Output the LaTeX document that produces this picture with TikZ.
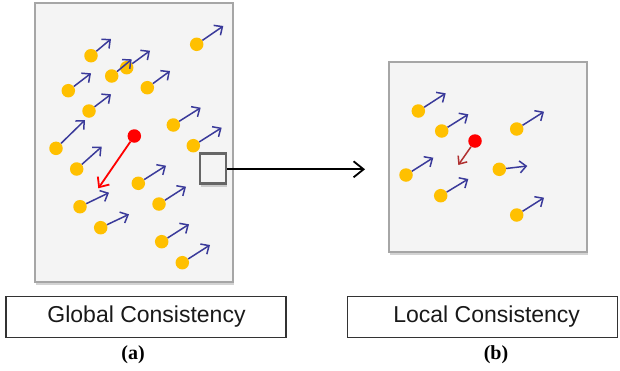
\documentclass[tikz,border=0pt]{standalone}
\usepackage{fontspec}
\setmainfont{Liberation Sans}
\newfontfamily\capfont{Liberation Serif}
\usetikzlibrary{arrows.meta,shadows}
\definecolor{panelfill}{HTML}{F4F4F4}
\definecolor{panelline}{HTML}{A6A6A6}
\definecolor{dotgold}{HTML}{FFC000}
\definecolor{vecblue}{HTML}{3A3A9A}
\definecolor{darkred}{HTML}{B03030}
\tikzset{
  panel/.style={draw=panelline, line width=2pt, fill=panelfill,
    drop shadow={shadow xshift=1pt, shadow yshift=-3pt, opacity=0.35}},
  zoombox/.style={draw=black!60, line width=2.4pt, fill=panelfill,
    drop shadow={shadow xshift=1pt, shadow yshift=-3pt, opacity=0.35}},
  dot/.style={circle, fill=dotgold, inner sep=0pt, minimum size=13.5pt},
  reddot/.style={circle, fill=red, inner sep=0pt, minimum size=13.5pt},
  vec/.style={draw=vecblue, line width=1.5pt, -{Straight Barb[length=6.5pt,width=12pt,line width=1.5pt]}},
  redvec/.style={draw=red, line width=1.8pt, -{Straight Barb[length=8pt,width=14pt,line width=1.8pt]}},
  darkvec/.style={draw=darkred, line width=1.5pt, -{Straight Barb[length=6.5pt,width=11pt,line width=1.5pt]}},
  labelbox/.style={draw=black!80, line width=1.3pt, fill=white},
  labeltext/.style={font=\fontsize{23}{27}\selectfont, text=black!90},
  captext/.style={font=\capfont\bfseries\fontsize{20}{24}\selectfont}
}
\begin{document}
\begin{tikzpicture}[x=1pt,y=-1pt]
\useasboundingbox (0,0) rectangle (620,370);
% panels
\path[panel] (35,3) rectangle (233,282);
\path[panel] (389.3,61.7) rectangle (587.3,251.7);
% left dots
\foreach \n/\x/\y in {1/196.7/44.3, 2/91/55.7, 3/126.7/67.7, 4/111.7/76, 5/68.3/90.7,
  6/147.3/87.7, 7/89/111, 8/56/148.3, 9/173.3/125, 10/193.3/145.7, 11/76.7/169,
  12/138.3/183.3, 13/80/206.7, 14/159/204, 15/100.7/227.7, 16/161.7/241.7, 17/182.3/262.7}
  \node[dot] (d\n) at (\x,\y) {};
\node[reddot] (rl) at (134.3,136) {};
% left vector ends
\foreach \n/\x/\y in {1/223.3/26, 2/111/39, 3/150/50.7, 4/131.7/59.3, 5/91/73.3,
  6/170/71, 7/111/94.3, 8/85/120, 9/200.7/107.7, 10/221.7/127.7, 11/101.7/146.7,
  12/166/165.7, 13/109/192.7, 14/186/186.7, 15/129/214.3, 16/189/224.3, 17/210/245}
  \coordinate (v\n) at (\x,\y);
\foreach \n in {1,...,17}
  \draw[vec] (d\n) -- (v\n);
\coordinate (rlv) at (98.3,188.3);
\draw[redvec] (rl) -- (rlv);
% right dots
\foreach \n/\x/\y in {1/418.3/111, 2/441.7/131, 3/516.7/129, 4/406/175,
  5/499.3/169.3, 6/440.7/195.7, 7/516.7/215}
  \node[dot] (e\n) at (\x,\y) {};
\node[reddot] (rr) at (475,141) {};
\foreach \n/\x/\y in {1/445.7/93.3, 2/468.3/114.3, 3/544/111.7, 4/433.3/157.7,
  5/527.3/166, 6/468.3/179, 7/544/197.7}
  \coordinate (w\n) at (\x,\y);
\foreach \n in {1,...,7}
  \draw[vec] (e\n) -- (w\n);
\coordinate (rrv) at (458.3,165);
\draw[darkvec] (rr) -- (rrv);
% zoom square and arrow
\node[zoombox, minimum width=26pt, minimum height=30pt, inner sep=0pt] (zb) at (213,168.5) {};
\coordinate (zend) at (365,169.3);
\draw[line width=1.8pt, -{Straight Barb[length=10pt,width=16pt,line width=1.8pt]}] (zb.east |- zend) -- (zend);
% labels
\node[labelbox, minimum width=280pt, minimum height=40.5pt, inner sep=0pt] (gl) at (146,317) {};
\node[labeltext] (glt) at (146.5,317) {Global Consistency};
\node[labelbox, minimum width=270pt, minimum height=40.5pt, inner sep=0pt] (lc) at (482.3,317) {};
\node[labeltext] (lct) at (486.7,317) {Local Consistency};
\node[captext] (ca) at (133,355) {(a)};
\node[captext] (cb) at (496,355) {(b)};
\end{tikzpicture}
\end{document}
